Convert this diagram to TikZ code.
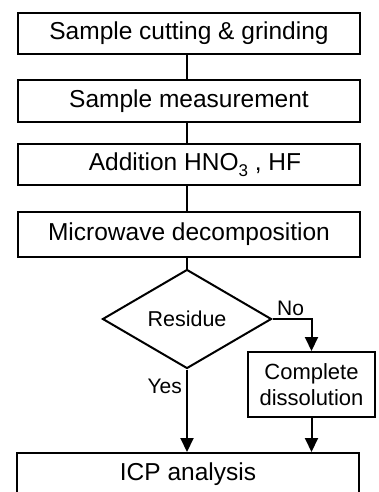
\documentclass[tikz,border=0pt]{standalone}
\usepackage{fontspec}
\setmainfont{Liberation Sans}
\usetikzlibrary{shapes.geometric,arrows.meta}
\begin{document}
\begin{tikzpicture}[x=1pt,y=-1pt,
  box/.style={draw,line width=2pt,minimum width=342pt,inner sep=0pt,font=\fontsize{24.5}{28}\selectfont},
  decision/.style={draw,diamond,line width=2pt,minimum width=169pt,minimum height=99pt,inner sep=0pt,aspect=1.7,font=\fontsize{21.5}{25}\selectfont},
  smallbox/.style={draw,line width=2pt,minimum width=127pt,minimum height=65pt,inner sep=0pt,align=center,font=\fontsize{22}{26}\selectfont},
  lbl/.style={inner sep=0pt,font=\fontsize{21}{25}\selectfont},
  link/.style={line width=2pt},
  arrow/.style={line width=2pt,-{Triangle[length=14pt,width=13pt]}}]
\clip (0,0) rectangle (379,492);
\fill[white] (0,0) rectangle (379,492);
\node[box,minimum height=41pt] (b1) at (189,33.5) {Sample cutting \& grinding};
\node[box,minimum height=42pt] (b2) at (189,101) {Sample measurement};
\node[box,minimum height=41pt] (b3) at (189,164.5) {\hspace*{12pt}Addition HNO\raisebox{-6pt}{\fontsize{17}{17}\selectfont 3} , HF};
\node[box,minimum height=45pt] (b4) at (189,234.5) {Microwave decomposition};
\node[decision] (d) at (187,319) {Residue};
\node[smallbox] (cd) at (311.5,384.5) {Complete\\dissolution};
\node[box,minimum height=42pt] (icp) at (188,474) {\raisebox{5pt}{ICP analysis}};
\node[lbl,anchor=base west] (no) at (277,315) {No};
\node[lbl,anchor=base east] (yes) at (182,393) {Yes};
\draw[link] (b1.south -| d.north) -- (b2.north -| d.north);
\draw[link] (b2.south -| d.north) -- (b3.north -| d.north);
\draw[link] (b3.south -| d.north) -- (b4.north -| d.north);
\draw[link] (b4.south -| d.north) -- (d.north);
\draw[arrow] (d.east) -| (cd.north);
\draw[arrow] (d.south) -- (d.south |- icp.north);
\draw[arrow] (cd.south) -- (cd.south |- icp.north);
\end{tikzpicture}
\end{document}
